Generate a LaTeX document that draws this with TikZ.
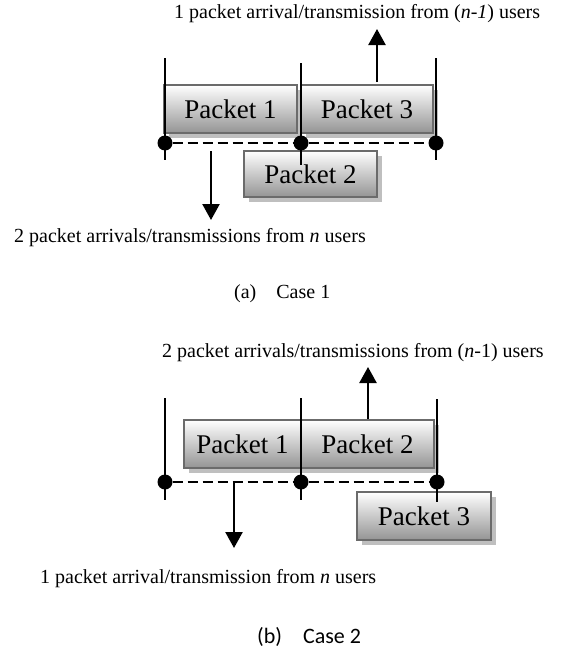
\documentclass[tikz,border=0pt]{standalone}
\usepackage{fontspec}
\setmainfont{Liberation Serif}
\newfontfamily\capfont{Carlito}
\usetikzlibrary{arrows.meta,shadows}

\begin{document}
\begin{tikzpicture}[x=1pt,y=-1pt,
  packet/.style={draw=black!58, line width=2.2pt, top color=white, bottom color=black!42,
    inner sep=0pt, font=\fontsize{27}{31}\selectfont,
    drop shadow={shadow xshift=4.5pt, shadow yshift=-4.5pt, fill=black!25, opacity=1}},
  tick/.style={line width=2.4pt},
  timeline/.style={line width=2.8pt, dash pattern=on 10pt off 5pt},
  dot/.style={circle, fill=black, inner sep=0pt, minimum size=15pt},
  flow/.style={line width=2.4pt, -{Triangle[width=17pt,length=16pt]}},
  label/.style={anchor=base west, inner sep=0pt, font=\fontsize{20}{24}\selectfont},
  caption/.style={anchor=base west, inner sep=0pt, font=\fontsize{20}{24}\selectfont}]

\useasboundingbox[fill=white] (0,0) rectangle (569,653);

% ---------- Case 1 ----------
\node[packet, minimum width=133pt, minimum height=48pt] (a1) at (230.5,109) {Packet 1};
\node[packet, minimum width=132pt, minimum height=48pt] (a3) at (367,109) {Packet 3};
\node[packet, minimum width=133pt, minimum height=46pt] (a2) at (310.5,174) {Packet 2};

\coordinate (aL1) at (165,58);  \coordinate (aL2) at (165,160);
\coordinate (aM1) at (301,63);  \coordinate (aM2) at (301,165);
\coordinate (aR1) at (436,58);  \coordinate (aR2) at (436,160);
\draw[tick] (aL1) -- (aL2);
\draw[tick] (aM1) -- (aM2);
\draw[tick] (aR1) -- (aR2);

\node[dot] (ad1) at (165,143) {};
\node[dot] (ad2) at (301,143) {};
\node[dot] (ad3) at (436,143) {};
\draw[timeline] (ad1) -- (ad2) -- (ad3);

\coordinate (aupS) at (377,82);   \coordinate (aupE) at (377,29);
\coordinate (adnS) at (211,151);  \coordinate (adnE) at (211,220);
\draw[flow] (aupS) -- (aupE);
\draw[flow] (adnS) -- (adnE);

\node[label] (at) at (174,18) {1 packet arrival/transmission from (\textit{n-1}) users};
\node[label] (ab) at (14,242) {2 packet arrivals/transmissions from \textit{n} users};
\node[caption] (ac) at (234,298) {(a)\hspace{20pt}Case 1};

% ---------- Case 2 ----------
\node[packet, minimum width=117pt, minimum height=48pt] (b1) at (242.5,444) {Packet 1};
\node[packet, minimum width=133pt, minimum height=48pt] (b2) at (367.5,444) {Packet 2};
\node[packet, minimum width=134pt, minimum height=48pt] (b3) at (424,516) {Packet 3};

\coordinate (bL1) at (165,398); \coordinate (bL2) at (165,500);
\coordinate (bM1) at (301,398); \coordinate (bM2) at (301,500);
\coordinate (bR1) at (437,399); \coordinate (bR2) at (437,502);
\draw[tick] (bL1) -- (bL2);
\draw[tick] (bM1) -- (bM2);
\draw[tick] (bR1) -- (bR2);

\node[dot] (bd1) at (165,482) {};
\node[dot] (bd2) at (301,482) {};
\node[dot] (bd3) at (437,482) {};
\draw[timeline] (bd1) -- (bd2) -- (bd3);

\coordinate (bupS) at (368,419);  \coordinate (bupE) at (368,367);
\coordinate (bdnS) at (234,483);  \coordinate (bdnE) at (234,548);
\draw[flow] (bupS) -- (bupE);
\draw[flow] (bdnS) -- (bdnE);

\node[label] (bt) at (162,357) {2 packet arrivals/transmissions from (\textit{n}-1) users};
\node[label] (bb) at (40,583) {1 packet arrival/transmission from \textit{n} users};
\node[caption, font=\capfont\fontsize{22}{26}\selectfont] (bc) at (257,643) {(b)\hspace{21pt}Case 2};
\end{tikzpicture}
\end{document}
